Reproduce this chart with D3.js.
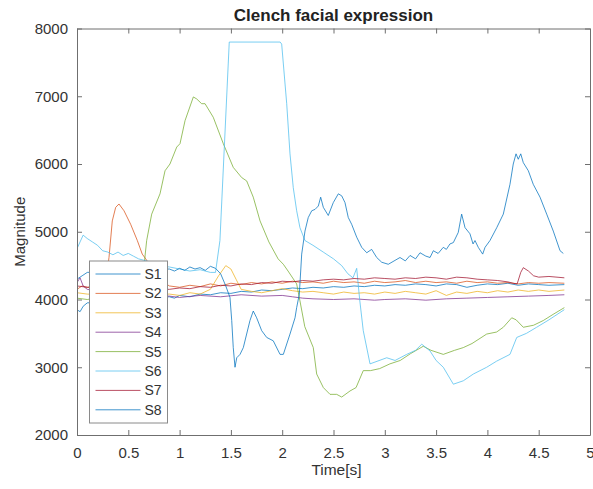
<!DOCTYPE html>
<html>
<head>
<meta charset="utf-8">
<script src="https://cdn.jsdelivr.net/npm/d3@7"></script>
<style>
  html, body { margin: 0; padding: 0; background: #fff; }
  svg { display: block; font-family: "Liberation Sans", Arial, Helvetica, sans-serif; }
</style>
</head>
<body>
<svg id="chart" width="593" height="489"></svg>
<script>
// Signal magnitude per subject, [time (s), magnitude]
const s1 = [[0,3850],[0.03,3820],[0.06,3900],[0.1,3950],[0.2,3960],[0.3,3980],[0.5,4000],[0.7,4020],[0.9,4040],[0.95,4020],[1.0,4060],[1.1,4040],[1.2,4080],[1.3,4070],[1.4,4100],[1.5,4090],[1.6,4120],[1.7,4110],[1.8,4140],[1.9,4130],[2.0,4150],[2.1,4170],[2.2,4160],[2.3,4180],[2.4,4170],[2.5,4190],[2.6,4180],[2.7,4200],[2.8,4190],[2.9,4210],[3.0,4200],[3.1,4220],[3.2,4210],[3.3,4230],[3.4,4220],[3.5,4200],[3.6,4230],[3.7,4220],[3.8,4180],[3.9,4210],[4.0,4230],[4.1,4220],[4.2,4240],[4.3,4210],[4.4,4230],[4.5,4220],[4.6,4210],[4.75,4220]];
const s2 = [[0,4150],[0.05,4200],[0.1,4180],[0.2,4200],[0.28,4260],[0.312,4620],[0.344,5160],[0.377,5360],[0.409,5410],[0.458,5310],[0.523,5110],[0.588,4870],[0.636,4670],[0.67,4600],[0.75,4400],[0.85,4250],[0.9,4200],[1.0,4180],[1.1,4210],[1.2,4190],[1.3,4230],[1.4,4200],[1.5,4240],[1.6,4220],[1.7,4250],[1.8,4230],[1.9,4260],[2.0,4240],[2.1,4270],[2.2,4250],[2.3,4260],[2.4,4240],[2.5,4270],[2.6,4250],[2.7,4260],[2.8,4240],[2.9,4270],[3.0,4250],[3.1,4260],[3.2,4280],[3.3,4250],[3.4,4270],[3.5,4250],[3.6,4260],[3.7,4240],[3.8,4270],[3.9,4250],[4.0,4260],[4.1,4240],[4.2,4250],[4.3,4230],[4.4,4250],[4.5,4240],[4.6,4250],[4.75,4240]];
const s3 = [[0,4100],[0.1,4080],[0.5,4050],[0.9,4080],[1.0,4060],[1.1,4100],[1.2,4080],[1.3,4150],[1.38,4350],[1.45,4500],[1.5,4450],[1.55,4300],[1.6,4150],[1.7,4120],[1.8,4100],[1.9,4130],[2.0,4160],[2.1,4130],[2.2,4110],[2.3,4120],[2.4,4100],[2.5,4080],[2.6,4110],[2.7,4090],[2.8,4100],[2.9,4080],[3.0,4110],[3.1,4090],[3.2,4120],[3.3,4100],[3.4,4080],[3.5,4130],[3.6,4060],[3.7,4110],[3.8,4090],[3.9,4120],[4.0,4100],[4.1,4130],[4.2,4110],[4.3,4140],[4.4,4120],[4.5,4140],[4.6,4120],[4.75,4140]];
const s4 = [[0,4250],[0.03,4320],[0.06,4200],[0.1,4150],[0.5,4050],[0.9,4050],[1.0,4030],[1.2,4060],[1.4,4040],[1.6,4070],[1.8,4050],[2.0,4060],[2.1,4040],[2.2,4020],[2.3,4010],[2.5,4000],[2.7,4010],[2.9,3990],[3.0,4000],[3.2,4010],[3.4,3990],[3.6,4010],[3.8,4020],[4.0,4030],[4.2,4040],[4.4,4050],[4.6,4060],[4.75,4070]];
const s5 = [[0,4020],[0.1,4000],[0.3,4050],[0.5,4100],[0.6,4250],[0.65,4450],[0.679,4870],[0.728,5260],[0.809,5560],[0.858,5900],[0.906,6000],[0.972,6250],[1.004,6300],[1.053,6640],[1.134,6990],[1.167,6960],[1.215,6890],[1.248,6890],[1.328,6690],[1.426,6300],[1.523,5950],[1.605,5800],[1.654,5750],[1.718,5510],[1.784,5160],[1.87,4850],[1.96,4600],[2.011,4520],[2.057,4420],[2.141,4230],[2.173,3980],[2.22,3600],[2.303,3290],[2.336,2900],[2.401,2700],[2.466,2600],[2.531,2600],[2.58,2560],[2.661,2650],[2.72,2700],[2.79,2950],[2.86,2950],[2.95,2980],[3.05,3050],[3.15,3100],[3.25,3200],[3.375,3310],[3.45,3250],[3.57,3190],[3.68,3250],[3.765,3290],[3.85,3350],[3.993,3490],[4.09,3520],[4.155,3590],[4.237,3730],[4.28,3700],[4.35,3590],[4.45,3620],[4.545,3690],[4.64,3780],[4.75,3880]];
const s6 = [[0,4750],[0.03,4850],[0.06,4950],[0.1,4900],[0.15,4850],[0.2,4800],[0.25,4720],[0.3,4700],[0.35,4660],[0.4,4700],[0.45,4650],[0.5,4680],[0.55,4640],[0.6,4600],[0.65,4580],[0.7,4560],[0.8,4500],[0.9,4480],[1.0,4450],[1.1,4420],[1.2,4440],[1.3,4400],[1.35,4400],[1.393,4870],[1.484,7800],[1.98,7800],[1.995,7770],[2.044,6890],[2.076,6150],[2.108,5650],[2.141,5310],[2.173,5060],[2.222,4870],[2.3,4800],[2.4,4700],[2.5,4600],[2.58,4500],[2.64,4380],[2.69,4320],[2.726,4460],[2.755,4000],[2.79,3540],[2.856,3050],[3.019,3140],[3.1,3100],[3.213,3190],[3.3,3250],[3.36,3340],[3.441,3240],[3.5,3100],[3.57,3000],[3.668,2750],[3.765,2800],[3.863,2900],[3.993,3000],[4.09,3090],[4.22,3190],[4.286,3440],[4.38,3500],[4.48,3590],[4.6,3700],[4.75,3850]];
const s7 = [[0,4200],[0.1,4180],[0.5,4150],[0.9,4150],[1.0,4170],[1.1,4160],[1.2,4190],[1.3,4180],[1.4,4210],[1.5,4200],[1.6,4230],[1.7,4220],[1.8,4250],[1.9,4240],[2.0,4270],[2.1,4260],[2.2,4280],[2.3,4270],[2.4,4290],[2.5,4300],[2.6,4290],[2.7,4310],[2.8,4300],[2.9,4320],[3.0,4310],[3.1,4300],[3.2,4320],[3.3,4310],[3.4,4330],[3.5,4320],[3.6,4300],[3.7,4330],[3.8,4320],[3.9,4300],[4.0,4290],[4.1,4280],[4.2,4260],[4.25,4240],[4.29,4230],[4.325,4400],[4.35,4470],[4.4,4420],[4.45,4350],[4.5,4330],[4.6,4340],[4.75,4320]];
const s8 = [[0,4300],[0.05,4350],[0.1,4400],[0.5,4420],[0.9,4450],[0.95,4420],[1.0,4460],[1.05,4430],[1.1,4480],[1.15,4450],[1.2,4470],[1.25,4430],[1.3,4490],[1.35,4460],[1.4,4380],[1.45,4200],[1.491,4030],[1.508,3690],[1.523,3290],[1.54,3000],[1.557,3140],[1.589,3190],[1.621,3290],[1.686,3690],[1.718,3830],[1.751,3730],[1.8,3540],[1.849,3440],[1.913,3390],[1.979,3190],[2.011,3190],[2.076,3490],[2.125,3730],[2.141,3880],[2.167,4080],[2.19,4670],[2.222,5010],[2.254,5210],[2.288,5310],[2.32,5330],[2.352,5380],[2.375,5510],[2.401,5360],[2.449,5240],[2.498,5430],[2.547,5560],[2.58,5530],[2.612,5430],[2.644,5210],[2.677,5110],[2.726,4920],[2.775,4770],[2.824,4690],[2.872,4740],[2.921,4620],[2.97,4550],[3.034,4520],[3.08,4560],[3.148,4620],[3.2,4570],[3.246,4650],[3.3,4600],[3.343,4690],[3.4,4640],[3.441,4620],[3.473,4720],[3.52,4680],[3.57,4770],[3.6,4740],[3.635,4820],[3.668,4840],[3.716,4990],[3.749,5260],[3.782,5060],[3.83,4970],[3.86,4820],[3.879,4870],[3.911,4770],[3.954,4670],[3.977,4770],[4.025,4870],[4.091,5060],[4.155,5260],[4.22,5700],[4.252,6000],[4.279,6150],[4.301,6070],[4.325,6150],[4.35,6020],[4.399,5900],[4.447,5700],[4.513,5510],[4.578,5260],[4.642,5010],[4.708,4720],[4.74,4680]];

const seriesNames = ["S1", "S2", "S3", "S4", "S5", "S6", "S7", "S8"];
const seriesData = [s1, s2, s3, s4, s5, s6, s7, s8];
const timeTicks = [0, 0.5, 1, 1.5, 2, 2.5, 3, 3.5, 4, 4.5, 5];
const magnitudeTicks = [2000, 3000, 4000, 5000, 6000, 7000, 8000];

// MATLAB default line colour order (wraps after seven)
const palette = ["#0072BD", "#D95319", "#EDB120", "#7E2F8E", "#77AC30", "#4DBEEE", "#A2142F", "#0072BD"];

const svg = d3.select("#chart");
const plot = { left: 77, right: 590, top: 28.5, bottom: 435 };
const axisColor = "#6f6f6f";
const textColor = "#333";

const x = d3.scaleLinear().domain([0, 5]).range([plot.left, plot.right]);
const y = d3.scaleLinear().domain([2000, 8000]).range([plot.bottom, plot.top]);

svg.append("defs").append("clipPath").attr("id", "plot-clip")
  .append("rect")
  .attr("x", plot.left).attr("y", plot.top)
  .attr("width", plot.right - plot.left).attr("height", plot.bottom - plot.top);

// Traces
const line = d3.line().x(d => x(d[0])).y(d => y(d[1]));
svg.append("g").attr("clip-path", "url(#plot-clip)")
  .selectAll("path")
  .data(seriesData)
  .join("path")
  .attr("d", line)
  .attr("fill", "none")
  .attr("stroke", (d, i) => palette[i])
  .attr("stroke-width", 1)
  .attr("stroke-opacity", 0.75)
  .attr("stroke-linejoin", "round");

// Axes: ticks point inward on all four sides
function styleAxis(g) {
  g.attr("font-family", null);
  g.selectAll("path.domain").attr("stroke", axisColor);
  g.selectAll(".tick line").attr("stroke", axisColor);
  g.selectAll(".tick text").attr("fill", textColor).attr("font-size", 15);
}
const fmt = d => String(d);

svg.append("g")
  .attr("transform", `translate(0,${plot.bottom})`)
  .call(d3.axisBottom(x).tickValues(timeTicks).tickFormat(fmt).tickSizeInner(-5).tickSizeOuter(0).tickPadding(12))
  .call(styleAxis);
svg.append("g")
  .attr("transform", `translate(0,${plot.top})`)
  .call(d3.axisTop(x).tickValues(timeTicks).tickFormat("").tickSizeInner(-5).tickSizeOuter(0))
  .call(styleAxis);
svg.append("g")
  .attr("transform", `translate(${plot.left},0)`)
  .call(d3.axisLeft(y).tickValues(magnitudeTicks).tickFormat(fmt).tickSizeInner(-5).tickSizeOuter(0).tickPadding(9))
  .call(styleAxis);
svg.append("g")
  .attr("transform", `translate(${plot.right},0)`)
  .call(d3.axisRight(y).tickValues(magnitudeTicks).tickFormat("").tickSizeInner(-5).tickSizeOuter(0))
  .call(styleAxis);

// Titles
const midX = (plot.left + plot.right) / 2;
svg.append("text")
  .attr("x", midX).attr("y", 21)
  .attr("text-anchor", "middle")
  .attr("font-size", 17).attr("font-weight", "bold").attr("fill", "#222")
  .text("Clench facial expression");
svg.append("text")
  .attr("x", midX + 3).attr("y", 475)
  .attr("text-anchor", "middle")
  .attr("font-size", 15.5).attr("fill", textColor)
  .text("Time[s]");
svg.append("text")
  .attr("transform", `translate(25,${(plot.top + plot.bottom) / 2}) rotate(-90)`)
  .attr("text-anchor", "middle")
  .attr("font-size", 15).attr("fill", textColor)
  .text("Magnitude");

// Legend
const legend = svg.append("g").attr("transform", "translate(89.5,261)");
legend.append("rect")
  .attr("width", 78).attr("height", 162)
  .attr("fill", "#fff").attr("stroke", "#8a8a8a").attr("stroke-width", 1);
const item = legend.selectAll("g.item")
  .data(seriesNames)
  .join("g").attr("class", "item")
  .attr("transform", (d, i) => `translate(0,${13 + i * 19.4})`);
item.append("line")
  .attr("x1", 6).attr("x2", 51)
  .attr("stroke", (d, i) => palette[i])
  .attr("stroke-width", 1)
  .attr("stroke-opacity", 0.75);
item.append("text")
  .attr("x", 55).attr("dy", "0.36em")
  .attr("font-size", 14).attr("fill", textColor)
  .text(d => d);
</script>
</body>
</html>
